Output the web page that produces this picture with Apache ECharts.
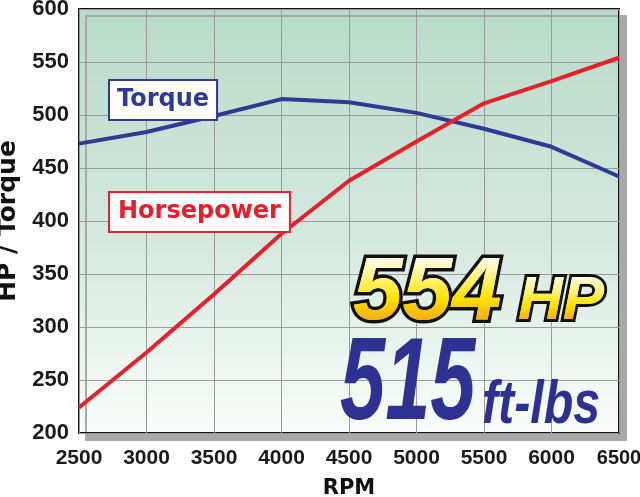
<!DOCTYPE html>
<html><head><meta charset="utf-8">
<script src="https://cdn.jsdelivr.net/npm/echarts@6/dist/echarts.min.js"></script>
<style>html,body{margin:0;padding:0;background:#fff}#c{width:640px;height:497px}</style>
</head><body><div id="c"></div>
<script>
var rpm = [2500, 3000, 3500, 4000, 4500, 5000, 5500, 6000, 6500];
var horsepower = [224, 276, 331, 388, 438, 475, 511, 532, 554];
var torque = [473, 484, 499, 515, 512, 502, 487, 470, 442];
var yTicks = {min: 200, max: 600, interval: 50};
var xTicks = {min: 2500, max: 6500, interval: 500};
var peakHP = '554', peakTQ = '515';

var labFont = '"Liberation Sans",Arial,sans-serif';
var chart = echarts.init(document.getElementById('c'), null, {renderer: 'canvas'});
function pairs(xs, ys) { return xs.map(function (x, i) { return [x, ys[i]]; }); }
chart.setOption({
  animation: false,
  grid: {
    left: 79, right: 21, top: 9, bottom: 64, show: true,
    outerBoundsMode: 'none', containLabel: false,
    backgroundColor: new echarts.graphic.LinearGradient(0, 0, 0, 1, [
      {offset: 0, color: '#b9dbca'}, {offset: 0.55, color: '#d6e9df'}, {offset: 1, color: '#fafdfb'}]),
    borderColor: '#111', borderWidth: 2,
    shadowColor: '#a8a8a8', shadowOffsetX: 7, shadowOffsetY: 7, shadowBlur: 0
  },
  xAxis: {
    type: 'value', min: xTicks.min, max: xTicks.max, interval: xTicks.interval,
    name: 'RPM', nameLocation: 'middle', nameGap: 47,
    nameTextStyle: {fontFamily: 'DejaVu Sans', fontWeight: 'bold', fontSize: 21, color: '#111', lineHeight: 18},
    axisLine: {show: false}, axisTick: {show: false},
    axisLabel: {fontFamily: labFont, fontWeight: 'bold', fontSize: 21, color: '#1a1a1a', margin: 15,
      showMinLabel: true, showMaxLabel: true, hideOverlap: false,
      formatter: function (v) { return v === xTicks.max ? '{last|' + v + '}' : String(v); },
      rich: {last: {fontFamily: labFont, fontWeight: 'bold', fontSize: 20, color: '#1a1a1a'}}},
    splitLine: {lineStyle: {color: '#9a9a9a', width: 1}}
  },
  yAxis: {
    type: 'value', min: yTicks.min, max: yTicks.max, interval: yTicks.interval,
    name: 'HP / Torque', nameLocation: 'middle', nameGap: 32, nameRotate: 90,
    nameTextStyle: {fontFamily: 'DejaVu Sans', fontWeight: 'bold', fontSize: 25, color: '#111'},
    axisLine: {show: false}, axisTick: {show: false},
    axisLabel: {fontFamily: labFont, fontWeight: 'bold', fontSize: 22, color: '#1a1a1a', margin: 10,
      lineHeight: 18, showMinLabel: true, showMaxLabel: true},
    splitLine: {lineStyle: {color: '#9a9a9a', width: 1}}
  },
  series: [
    {name: 'Torque', type: 'line', data: pairs(rpm, torque), symbol: 'none',
      lineStyle: {color: '#2e3a94', width: 4}, z: 3},
    {name: 'Horsepower', type: 'line', data: pairs(rpm, horsepower), symbol: 'none',
      lineStyle: {color: '#e5202b', width: 4}, z: 4}
  ],
  graphic: [
    {type: 'text', left: 108, top: 79, z: 10, style: {
      text: 'Torque', font: 'bold 24px "DejaVu Sans",sans-serif', fill: '#2e3a94',
      backgroundColor: '#fff', borderColor: '#2e3a94', borderWidth: 2, padding: [7, 7, 7, 7]}},
    {type: 'text', left: 108, top: 191, z: 10, style: {
      text: 'Horsepower', font: 'bold 24px "DejaVu Sans",sans-serif', fill: '#e5202b',
      backgroundColor: '#fff', borderColor: '#e5202b', borderWidth: 2, padding: [7, 8, 7, 8]}},
    {type: 'text', x: 353, y: 294, z: 10, style: {
      text: peakHP, font: 'italic bold 89px "Liberation Sans",sans-serif', verticalAlign: 'middle',
      fill: '#ffdc00', stroke: '#111', lineWidth: 7, strokeFirst: true}},
    {type: 'text', x: 518, y: 302, z: 10, style: {
      text: 'HP', font: 'italic bold 62px "Liberation Sans",sans-serif', verticalAlign: 'middle',
      fill: '#ffdc00', stroke: '#111', lineWidth: 6, strokeFirst: true}},
    {type: 'text', x: 340, y: 387, scaleX: 0.7, z: 10, style: {
      text: peakTQ, font: 'italic bold 116px "Liberation Sans",sans-serif', verticalAlign: 'middle',
      fill: '#2e3192'}},
    {type: 'text', x: 482, y: 406, scaleX: 0.78, z: 10, style: {
      text: 'ft-lbs', font: 'italic bold 62px "Liberation Sans",sans-serif', verticalAlign: 'middle',
      fill: '#2e3192'}}
  ]
});

// zrender will not fill text with a gradient, so repaint the fill of the gold "554 HP" glyphs with one
(function applyGold() {
  try {
    var zr = chart.getZr();
    var cnv = document.querySelector('#c canvas');
    var ctx = cnv.getContext('2d');
    var list = zr.storage.getDisplayList(true);
    list.forEach(function (el) {
      var s = el.style;
      if (s && (s.text === peakHP || s.text === 'HP') && s.font && s.font.indexOf('italic') >= 0) {
        el.afterBrush = function () {
          var st = this.style;
          var r = this.getBoundingRect();
          var g = ctx.createLinearGradient(0, r.y, 0, r.y + r.height);
          g.addColorStop(0.14, '#fffce6');
          g.addColorStop(0.34, '#fff27a');
          g.addColorStop(0.54, '#ffe400');
          g.addColorStop(0.84, '#f39a1e');
          ctx.save();
          ctx.fillStyle = g;
          ctx.fillText(st.text, st.x || 0, st.y || 0);
          ctx.restore();
        };
        el.markRedraw();
      }
    });
    zr.refreshImmediately();
  } catch (e) {}
})();
</script></body></html>
